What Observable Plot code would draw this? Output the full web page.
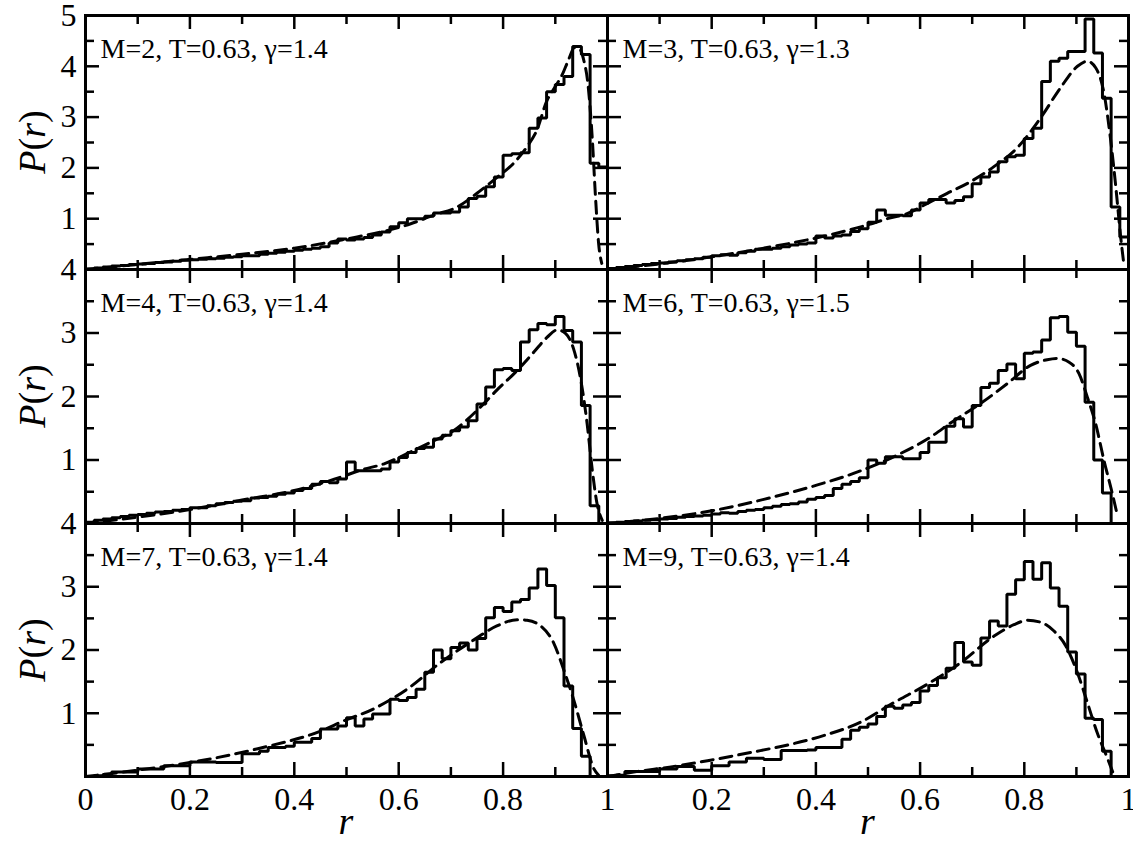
<!DOCTYPE html>
<html>
<head>
<meta charset="utf-8">
<script src="https://cdn.jsdelivr.net/npm/d3@7"></script>
<script src="https://cdn.jsdelivr.net/npm/@observablehq/plot@0.6"></script>
<style>
  body { margin: 0; background: #fff; }
  #chart { position: relative; width: 1133px; height: 843px; color: #000;
    font-family: "Liberation Serif", "LiberationSerif", "Tinos", "Times New Roman", Times, "Nimbus Roman", "FreeSerif", "DejaVu Serif", "Noto Serif", serif; }
  .panel { position: absolute; }
  .lab { position: absolute; white-space: nowrap; line-height: 0.9; font-size: 38px; }
</style>
</head>
<body>
<div id="chart"></div>
<script>
// ---------- data ----------
// histogram heights, 60 equal bins on r in [0,1]
const histM2 = [0.01,0.03,0.05,0.07,0.08,0.10,0.11,0.12,0.14,0.15,0.16,0.18,0.19,0.20,0.21,0.22,0.24,0.25,0.27,0.27,
  0.30,0.32,0.34,0.36,0.38,0.40,0.42,0.45,0.52,0.60,0.58,0.60,0.63,0.68,0.74,0.84,
  0.92,1.00,1.00,1.05,1.11,1.11,1.13,1.23,1.40,1.44,1.63,1.82,2.25,2.28,2.30,2.78,2.98,3.50,3.64,3.80,4.39,4.23,2.09,2.02];
const histM3 = [0.02,0.04,0.06,0.08,0.10,0.12,0.13,0.15,0.17,0.19,0.21,0.24,0.27,0.29,0.28,0.33,0.36,0.40,0.40,0.42,
  0.45,0.48,0.50,0.52,0.66,0.62,0.66,0.68,0.75,
  0.80,0.93,1.17,1.07,1.07,1.06,1.17,1.31,1.38,1.38,1.31,1.36,1.43,1.69,1.82,1.92,2.12,2.22,2.25,2.58,2.78,
  3.70,4.10,4.16,4.29,4.29,4.93,4.26,3.37,1.23,0.64];
const histM4 = [0.02,0.05,0.07,0.09,0.11,0.13,0.14,0.16,0.18,0.19,0.21,0.22,0.25,0.25,0.28,0.31,0.33,0.35,0.36,0.40,
  0.41,0.43,0.46,0.48,0.52,0.55,0.62,0.66,0.64,0.70,
  0.97,0.83,0.83,0.83,0.86,0.97,1.04,1.12,1.18,1.20,1.33,1.39,1.46,1.52,1.62,1.88,2.15,2.42,2.44,2.41,
  2.86,3.05,3.15,3.13,3.26,3.04,2.86,1.86,0.28,0];
const histM6 = [0.01,0.02,0.03,0.04,0.05,0.06,0.07,0.08,0.10,0.11,0.12,0.13,0.15,0.17,0.16,0.19,0.21,0.22,0.25,0.27,
  0.30,0.31,0.34,0.38,0.41,0.44,0.55,0.62,0.66,
  0.72,1.00,0.95,1.05,1.05,1.02,1.02,1.12,1.28,1.28,1.53,1.65,1.52,1.86,2.14,2.21,2.41,2.51,2.28,2.68,2.70,
  2.89,3.24,3.26,3.01,2.79,1.91,1.00,0.48,0,0];
const histM7 = [0.00,0.01,0.03,0.07,0.07,0.07,0.12,0.12,0.12,0.17,0.17,0.17,0.23,0.23,0.23,0.22,0.22,0.22,0.36,0.36,
  0.40,0.46,0.46,0.48,0.54,0.54,0.60,0.75,0.75,
  0.80,0.93,0.80,0.91,0.99,0.99,1.22,1.20,1.25,1.38,1.65,2.00,1.86,2.04,2.11,2.00,2.18,2.51,2.67,2.61,2.76,
  2.80,2.98,3.28,3.02,2.51,1.43,0.76,0.32,0,0];
const histM9 = [0.01,0.02,0.08,0.08,0.08,0.08,0.12,0.12,0.16,0.16,0.10,0.10,0.17,0.17,0.23,0.23,0.29,0.29,0.27,0.27,
  0.41,0.41,0.41,0.42,0.46,0.46,0.46,0.59,0.73,
  0.78,0.83,0.95,1.11,1.08,1.13,1.17,1.35,1.44,1.56,1.71,2.12,1.81,1.76,2.19,2.46,2.38,2.88,3.11,3.40,3.12,
  3.38,2.98,2.69,1.97,1.62,0.92,0.90,0.40,0,0];

// dashed fitted curves, [r, P(r)] points
const fitM2 = [[0,0],[0.1,0.1],[0.2,0.2],[0.3,0.3],[0.4,0.42],[0.5,0.6],[0.623,0.90],[0.667,1.07],[0.712,1.23],
  [0.75,1.50],[0.789,1.82],[0.82,2.09],[0.846,2.42],[0.865,2.75],[0.883,3.3],[0.9,3.6],[0.914,3.85],[0.925,4.12],
  [0.937,4.37],[0.946,4.35],[0.955,4.1],[0.962,3.7],[0.971,2.55],[0.977,1.43],[0.983,0.51],[0.989,0.12]];
const fitM3 = [[0,0],[0.1,0.11],[0.2,0.25],[0.3,0.42],[0.4,0.62],[0.5,0.88],[0.537,1.00],[0.575,1.10],[0.614,1.30],
  [0.652,1.50],[0.697,1.73],[0.741,2.02],[0.786,2.39],[0.831,2.98],[0.869,3.57],[0.902,4.00],[0.921,4.10],
  [0.937,3.97],[0.953,3.47],[0.965,2.61],[0.975,1.69],[0.985,0.64],[0.991,0.11]];
const fitM4 = [[0,0],[0.1,0.1],[0.2,0.22],[0.3,0.37],[0.4,0.52],[0.489,0.73],[0.527,0.84],[0.572,0.94],[0.616,1.10],
  [0.661,1.28],[0.705,1.46],[0.75,1.78],[0.788,2.10],[0.827,2.41],[0.859,2.70],[0.884,2.93],[0.904,3.05],
  [0.92,2.99],[0.935,2.75],[0.948,2.30],[0.961,1.57],[0.971,0.83],[0.98,0.31],[0.99,0.05]];
const fitM6 = [[0,0],[0.1,0.08],[0.2,0.2],[0.3,0.38],[0.4,0.6],[0.486,0.83],[0.562,1.10],[0.614,1.33],[0.665,1.62],
  [0.716,1.89],[0.767,2.20],[0.812,2.49],[0.844,2.58],[0.863,2.60],[0.886,2.54],[0.905,2.36],[0.921,1.99],
  [0.937,1.57],[0.953,0.99],[0.969,0.47],[0.978,0.15]];
const fitM7 = [[0,0],[0.1,0.1],[0.2,0.22],[0.33,0.44],[0.46,0.75],[0.489,0.86],[0.552,1.07],[0.616,1.38],[0.68,1.80],
  [0.744,2.16],[0.788,2.38],[0.827,2.48],[0.846,2.47],[0.872,2.38],[0.897,2.11],[0.916,1.69],[0.935,1.22],
  [0.955,0.64],[0.974,0.12],[0.983,0.02]];
const fitM9 = [[0,0],[0.05,0.07],[0.128,0.16],[0.192,0.25],[0.275,0.38],[0.352,0.51],[0.416,0.65],[0.486,0.86],
  [0.55,1.17],[0.614,1.46],[0.678,1.80],[0.742,2.22],[0.78,2.40],[0.806,2.47],[0.831,2.44],[0.857,2.30],
  [0.88,2.06],[0.902,1.64],[0.921,1.17],[0.94,0.69],[0.96,0.28],[0.972,0.02]];

const titles = ["M=2, T=0.63, \u03b3=1.4", "M=3, T=0.63, \u03b3=1.3", "M=4, T=0.63, \u03b3=1.4",
                "M=6, T=0.63, \u03b3=1.5", "M=7, T=0.63, \u03b3=1.4", "M=9, T=0.63, \u03b3=1.4"];

// axis ticks and labels
const xMajorTicks = [0.2, 0.4, 0.6, 0.8];
const xMinorTicks = [0.1, 0.3, 0.5, 0.7, 0.9];
const yMajorTicksTop = [1, 2, 3, 4];
const yMinorTicksTop = [0.5, 1.5, 2.5, 3.5, 4.5];
const yMajorTicks = [1, 2, 3];
const yMinorTicks = [0.5, 1.5, 2.5, 3.5];
const xLabelsLeft = [0, 0.2, 0.4, 0.6, 0.8, 1];
const xLabelsRight = [0.2, 0.4, 0.6, 0.8, 1];
const yLabelsTop = [1, 2, 3, 4, 5];
const yLabels = [1, 2, 3, 4];
const yMaxTop = 5, yMax = 4;

// ---------- layout ----------
const FONT = "'Liberation Serif', 'LiberationSerif', 'Tinos', 'Times New Roman', Times, 'Nimbus Roman', 'FreeSerif', 'DejaVu Serif', 'Noto Serif', serif";
const colEdges = [85, 607, 1128];
const rowEdges = [15, 269, 523, 776];
const chart = document.getElementById("chart");

const panels = [
  {hist: histM2, fit: fitM2, title: titles[0]},
  {hist: histM3, fit: fitM3, title: titles[1]},
  {hist: histM4, fit: fitM4, title: titles[2]},
  {hist: histM6, fit: fitM6, title: titles[3]},
  {hist: histM7, fit: fitM7, title: titles[4]},
  {hist: histM9, fit: fitM9, title: titles[5]}
];

panels.forEach((p, i) => {
  const row = Math.floor(i / 2), col = i % 2;
  const left = colEdges[col], top = rowEdges[row];
  const W = colEdges[col + 1] - left, H = rowEdges[row + 1] - top;
  const isTop = row === 0, isBottom = row === 2, isLeft = col === 0;
  const n = p.hist.length;
  const steps = p.hist.map((v, k) => ({r: k / n, P: v})).concat([{r: 1, P: p.hist[n - 1]}]);
  const fit = p.fit.map(([r, P]) => ({r, P}));
  const yMaj = isTop ? yMajorTicksTop : yMajorTicks;
  const yMin = isTop ? yMinorTicksTop : yMinorTicks;
  const tw = 2.5, big = 14, small = 9;

  const marks = [
    Plot.line(steps, {x: "r", y: "P", curve: "step-after", stroke: "black", strokeWidth: 3, strokeLinejoin: "miter"}),
    Plot.line(fit, {x: "r", y: "P", curve: "monotone-x", stroke: "black", strokeWidth: 3, strokeDasharray: "12,7"}),
    Plot.tickX(xMajorTicks, {x: d => d, insetTop: H - big, strokeWidth: tw}),
    Plot.tickX(xMajorTicks, {x: d => d, insetBottom: H - big, strokeWidth: tw}),
    Plot.tickX(xMinorTicks, {x: d => d, insetTop: H - small, strokeWidth: tw}),
    Plot.tickX(xMinorTicks, {x: d => d, insetBottom: H - small, strokeWidth: tw}),
    Plot.tickY(yMaj, {y: d => d, insetRight: W - big, strokeWidth: tw}),
    Plot.tickY(yMaj, {y: d => d, insetLeft: W - big, strokeWidth: tw}),
    Plot.tickY(yMin, {y: d => d, insetRight: W - small, strokeWidth: tw}),
    Plot.tickY(yMin, {y: d => d, insetLeft: W - small, strokeWidth: tw}),
    Plot.frame({stroke: "black", strokeWidth: 3}),
    Plot.text([p.title], {text: d => d, frameAnchor: "top-left", dx: 15, dy: 42, lineAnchor: "bottom",
      textAnchor: "start", fontSize: 28, fill: "black", fontFamily: FONT})
  ];
  if (isLeft) marks.push(Plot.axisY(isTop ? yLabelsTop : yLabels,
    {anchor: "left", tickSize: 0, tickPadding: 9, fontSize: 32, label: null, fontFamily: FONT, tickFormat: d => String(d)}));
  if (isBottom) marks.push(Plot.axisX(isLeft ? xLabelsLeft : xLabelsRight,
    {anchor: "bottom", tickSize: 0, tickPadding: 11, fontSize: 32, label: null, fontFamily: FONT, tickFormat: d => String(d)}));

  const svg = Plot.plot({
    width: W, height: H,
    marginLeft: 0, marginRight: 0, marginTop: 0, marginBottom: 0,
    x: {domain: [0, 1], label: null, ...(isBottom ? {} : {axis: null})},
    y: {domain: [0, isTop ? yMaxTop : yMax], label: null, ...(isLeft ? {} : {axis: null})},
    style: {background: "none", overflow: "visible", fontFamily: FONT, color: "black"},
    marks
  });
  const wrap = document.createElement("div");
  wrap.className = "panel";
  wrap.style.left = left + "px";
  wrap.style.top = top + "px";
  wrap.style.width = W + "px";
  wrap.style.height = H + "px";
  wrap.appendChild(svg);
  chart.appendChild(wrap);
});

// axis titles
for (let row = 0; row < 3; row++) {
  const d = document.createElement("div");
  d.className = "lab";
  d.innerHTML = "<i>P</i>(<i>r</i>)";
  d.style.left = "32px";
  d.style.top = ((rowEdges[row] + rowEdges[row + 1]) / 2) + "px";
  d.style.transform = "translate(-50%,-50%) rotate(-90deg)";
  chart.appendChild(d);
}
for (let col = 0; col < 2; col++) {
  const d = document.createElement("div");
  d.className = "lab";
  d.innerHTML = "<i>r</i>";
  d.style.left = ((colEdges[col] + colEdges[col + 1]) / 2) + "px";
  d.style.top = "804px";
  d.style.transform = "translateX(-50%)";
  chart.appendChild(d);
}
</script>
</body>
</html>
